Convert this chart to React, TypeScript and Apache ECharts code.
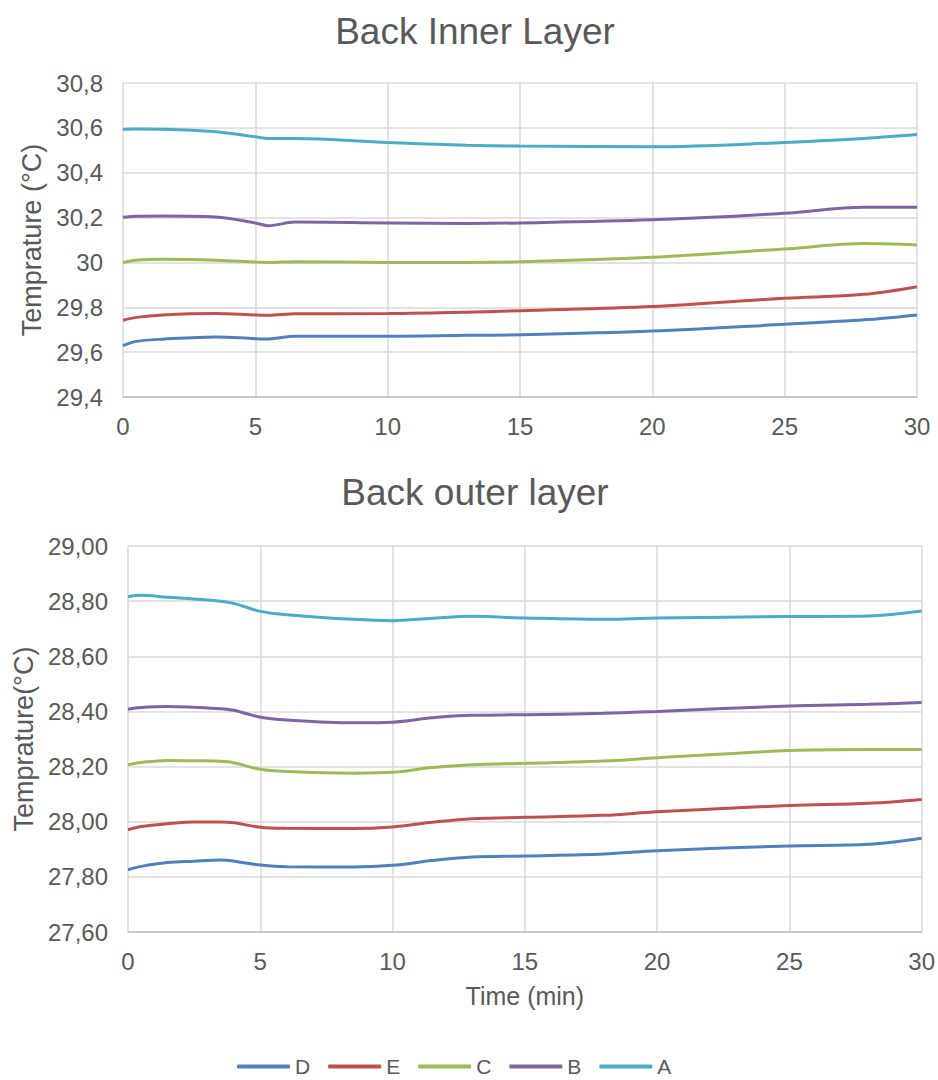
import React, { useEffect, useRef } from "react";
import * as echarts from "echarts";

const seriesNames = ["D", "E", "C", "B", "A"];
const seriesColors = ["#4F81BD", "#C0504D", "#9BBB59", "#8064A2", "#4BACC6"];

// Back Inner Layer
const timeTop = [0, 0.5, 1.5, 3.5, 5, 5.5, 6.5, 10, 13, 15, 20, 25, 28, 30];
const innerD = [29.629, 29.648, 29.658, 29.668, 29.66, 29.659, 29.671, 29.671, 29.675, 29.677, 29.694, 29.724, 29.744, 29.766];
const innerE = [29.742, 29.755, 29.766, 29.772, 29.766, 29.765, 29.771, 29.772, 29.778, 29.785, 29.803, 29.84, 29.858, 29.892];
const innerC = [30.0, 30.01, 30.014, 30.01, 30.002, 30.0, 30.003, 30.0, 30.0, 30.003, 30.023, 30.06, 30.084, 30.078];
const innerB = [30.201, 30.206, 30.207, 30.203, 30.176, 30.164, 30.18, 30.176, 30.174, 30.176, 30.19, 30.219, 30.246, 30.246];
const innerA = [30.594, 30.595, 30.594, 30.583, 30.56, 30.553, 30.553, 30.535, 30.523, 30.519, 30.516, 30.535, 30.553, 30.57];

// Back outer layer
const timeBottom = [0, 0.5, 1.5, 2.5, 3.5, 4, 5, 6, 8.5, 10, 11.5, 13, 15, 18, 20, 25, 28, 30];
const outerD = [27.826, 27.838, 27.852, 27.857, 27.861, 27.857, 27.843, 27.837, 27.836, 27.842, 27.859, 27.872, 27.876, 27.883, 27.895, 27.912, 27.918, 27.94];
const outerE = [27.971, 27.983, 27.993, 27.999, 27.999, 27.996, 27.98, 27.976, 27.975, 27.981, 27.998, 28.011, 28.016, 28.023, 28.036, 28.059, 28.067, 28.081];
const outerC = [28.207, 28.215, 28.222, 28.221, 28.219, 28.214, 28.19, 28.182, 28.176, 28.179, 28.197, 28.207, 28.212, 28.22, 28.232, 28.258, 28.262, 28.262];
const outerB = [28.408, 28.414, 28.418, 28.415, 28.41, 28.404, 28.379, 28.369, 28.359, 28.361, 28.377, 28.386, 28.388, 28.393, 28.4, 28.42, 28.426, 28.432];
const outerA = [28.816, 28.821, 28.814, 28.808, 28.8, 28.792, 28.763, 28.751, 28.734, 28.729, 28.738, 28.745, 28.739, 28.734, 28.739, 28.744, 28.746, 28.764];

const innerSeries = [innerD, innerE, innerC, innerB, innerA];
const outerSeries = [outerD, outerE, outerC, outerB, outerA];

const FONT = "'Liberation Sans', Arial, sans-serif";
const TEXT = "#595959";
const GRIDC = "#d9d9d9";

export default function App() {
  const ref = useRef<HTMLDivElement>(null);
  useEffect(() => {
    document.body.style.margin = "0";
    if (!ref.current) return;
    const chart = echarts.init(ref.current, undefined, { renderer: "svg" });

    const xAxisBase = (gridIndex: number) => ({
      type: "value",
      gridIndex,
      min: 0,
      max: 30,
      interval: 5,
      axisLine: { show: true, lineStyle: { color: "#bfbfbf", width: 1.5 } },
      axisTick: { show: false },
      axisLabel: { color: TEXT, fontSize: 24, fontFamily: FONT, margin: 17 },
      splitLine: { show: true, lineStyle: { color: GRIDC, width: 1.5 } },
    });

    const lineSeries = (data: number[][], times: number[], idx: number) =>
      data.map((vals, i) => ({
        name: seriesNames[i],
        type: "line",
        xAxisIndex: idx,
        yAxisIndex: idx,
        smooth: 0.35,
        showSymbol: false,
        symbol: "none",
        lineStyle: { width: 3, color: seriesColors[i] },
        itemStyle: { color: seriesColors[i] },
        data: times.map((t, k) => [t, vals[k]]),
      }));

    const option = {
      animation: false,
      backgroundColor: "#ffffff",
      textStyle: { fontFamily: FONT },
      title: [
        {
          text: "Back Inner Layer",
          left: 470,
          textAlign: "center",
          top: 8,
          textStyle: { color: TEXT, fontSize: 37, fontWeight: "normal", fontFamily: FONT },
        },
        {
          text: "Back outer layer",
          left: 470,
          textAlign: "center",
          top: 469,
          textStyle: { color: TEXT, fontSize: 37, fontWeight: "normal", fontFamily: FONT },
        },
      ],
      legend: {
        data: seriesNames,
        left: 237,
        top: 1056,
        padding: 0,
        icon: "roundRect",
        itemWidth: 53,
        itemHeight: 4,
        itemGap: 18,
        textStyle: { color: TEXT, fontSize: 21, lineHeight: 21, fontFamily: FONT },
      },
      grid: [
        { left: 123, top: 83, width: 794, height: 314, containLabel: false },
        { left: 128, top: 546, width: 794, height: 386, containLabel: false },
      ],
      xAxis: [
        xAxisBase(0),
        {
          ...xAxisBase(1),
          name: "Time (min)",
          nameLocation: "middle",
          nameGap: 51,
          nameTextStyle: { color: TEXT, fontSize: 25, fontFamily: FONT },
        },
      ],
      yAxis: [
        {
          type: "value",
          gridIndex: 0,
          min: 29.4,
          max: 30.8,
          interval: 0.2,
          name: "Temprature (°C)",
          nameLocation: "middle",
          nameRotate: 90,
          nameGap: 78,
          nameTextStyle: { color: TEXT, fontSize: 27, fontFamily: FONT },
          axisLine: { show: false },
          axisTick: { show: false },
          axisLabel: {
            color: TEXT,
            fontSize: 24,
            fontFamily: FONT,
            margin: 20,
            formatter: (v: number) => String(Number(v.toFixed(1))).replace(".", ","),
          },
          splitLine: { show: true, lineStyle: { color: GRIDC, width: 1.5 } },
        },
        {
          type: "value",
          gridIndex: 1,
          min: 27.6,
          max: 29.0,
          interval: 0.2,
          name: "Temprature(°C)",
          nameLocation: "middle",
          nameRotate: 90,
          nameGap: 90,
          nameTextStyle: { color: TEXT, fontSize: 27, fontFamily: FONT },
          axisLine: { show: false },
          axisTick: { show: false },
          axisLabel: {
            color: TEXT,
            fontSize: 24,
            fontFamily: FONT,
            margin: 20,
            formatter: (v: number) => v.toFixed(2).replace(".", ","),
          },
          splitLine: { show: true, lineStyle: { color: GRIDC, width: 1.5 } },
        },
      ],
      series: [...lineSeries(innerSeries, timeTop, 0), ...lineSeries(outerSeries, timeBottom, 1)],
    };

    chart.setOption(option as any);
    return () => chart.dispose();
  }, []);

  return <div ref={ref} style={{ width: 938, height: 1080 }} />;
}
